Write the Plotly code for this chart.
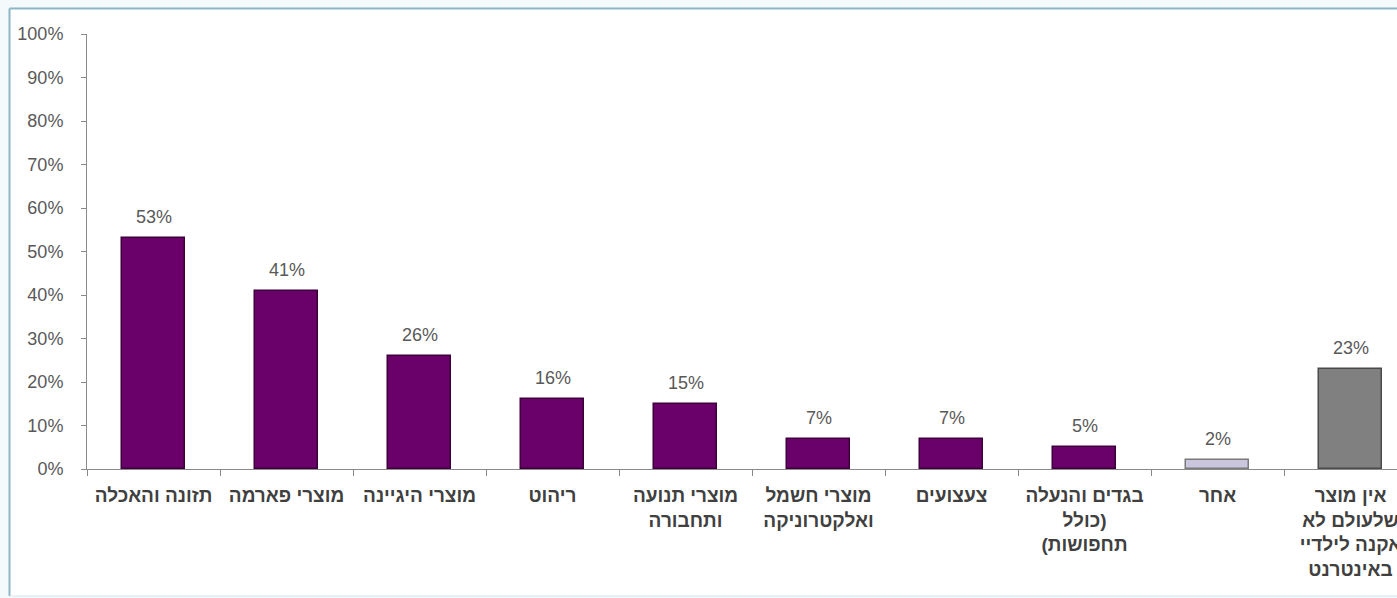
import plotly.graph_objects as go

# Product categories (Hebrew), values in percent
categories = [
    "תזונה והאכלה",
    "מוצרי פארמה",
    "מוצרי היגיינה",
    "ריהוט",
    "מוצרי תנועה<br>ותחבורה",
    "מוצרי חשמל<br>ואלקטרוניקה",
    "צעצועים",
    "בגדים והנעלה<br>\u200f(כולל<br>תחפושות)\u200f",
    "אחר",
    "אין מוצר<br>שלעולם לא<br>אקנה לילדיי<br>באינטרנט",
]
values = [53, 41, 26, 16, 15, 7, 7, 5, 2, 23]
y_ticks = [0, 10, 20, 30, 40, 50, 60, 70, 80, 90, 100]
y_tick_labels = [f"{t}%" for t in y_ticks]

purple, purple_edge = "#6a0069", "#3c003b"
fills = [purple] * 8 + ["#cbc5de", "#808080"]
edges = [purple_edge] * 8 + ["#7a7a7a", "#4a4a4a"]

W, H = 1397, 598
L, T, B = 87, 34, 129
plot_w = W - L
cat_px = 133
x_max = -0.5 + plot_w / cat_px

fig = go.Figure()
fig.add_trace(go.Bar(
    x=categories,
    y=values,
    width=0.475,
    marker=dict(color=fills, line=dict(color=edges, width=1.5)),
    hoverinfo="skip",
))

for c, v in zip(categories, values):
    fig.add_annotation(
        x=c, y=v, text=f"{v}%", showarrow=False,
        yanchor="bottom", yshift=9,
        font=dict(family="Liberation Sans, Arial", size=18, color="#595959"),
    )

# frame around the chart: white panel, then top / left / bottom edges
plot_h = H - T - B
def px_x(p):
    return (p - L) / plot_w
def px_y(p):
    return (H - B - p) / plot_h

fx0, fy_top, fy_bot = px_x(9.5), px_y(8.5), px_y(596)
fig.add_shape(type="rect", xref="paper", yref="paper",
              x0=fx0, x1=1.0, y0=fy_bot, y1=fy_top,
              line=dict(width=0), fillcolor="white", layer="below")
frame_line = dict(color="#8cb6c6", width=2)
fig.add_shape(type="line", xref="paper", yref="paper",
              x0=fx0, x1=1.0, y0=fy_top, y1=fy_top, line=frame_line)
fig.add_shape(type="line", xref="paper", yref="paper",
              x0=fx0, x1=fx0, y0=fy_bot, y1=fy_top, line=frame_line)
fig.add_shape(type="line", xref="paper", yref="paper",
              x0=fx0, x1=1.0, y0=fy_bot, y1=fy_bot,
              line=dict(color="#d6e6ec", width=1))

axis_font = dict(family="Liberation Sans, Arial", size=18, color="#595959")
fig.update_layout(
    width=W, height=H,
    margin=dict(l=L, r=0, t=T, b=B, pad=0),
    paper_bgcolor="#f4f9fb",
    plot_bgcolor="rgba(0,0,0,0)",
    showlegend=False,
    bargap=0,
    xaxis=dict(
        type="category",
        range=[-0.5, x_max],
        showline=True, linecolor="#8a8a8a", linewidth=1,
        ticks="outside", tickson="boundaries", ticklen=6, tickcolor="#8a8a8a",
        tickangle=0,
        ticklabelstandoff=9,
        tickfont=dict(family="Liberation Sans, Arial", size=19, color="#404040", weight="bold"),
        showgrid=False, zeroline=False, automargin=False,
    ),
    yaxis=dict(
        range=[0, 100],
        tickvals=y_ticks, ticktext=y_tick_labels,
        showline=True, linecolor="#8a8a8a", linewidth=1,
        ticks="outside", ticklen=5, tickcolor="#8a8a8a",
        ticklabelstandoff=14,
        tickfont=axis_font,
        showgrid=False, zeroline=False, automargin=False,
    ),
)

fig.write_html("out.html")
